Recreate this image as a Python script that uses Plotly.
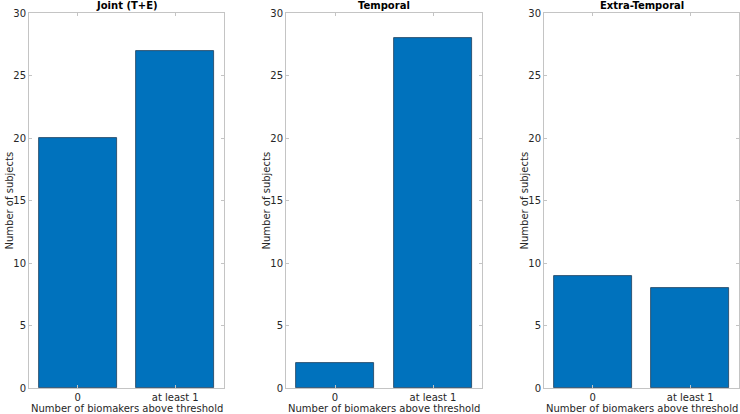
import plotly.graph_objects as go
from plotly.subplots import make_subplots

# data
categories = ["0", "at least 1"]
panel_titles = ["Joint (T+E)", "Temporal", "Extra-Temporal"]
joint_counts = [20, 27]
temporal_counts = [2, 28]
extra_counts = [9, 8]
y_ticks = [0, 5, 10, 15, 20, 25, 30]
x_title = "Number of biomakers above threshold"
y_title = "Number of subjects"

W, H = 740, 414
panels = [(29, 224), (286, 482), (544, 739)]
top_px, bot_px = 13, 388

fig = make_subplots(rows=1, cols=3)

bar_color = "#0072BD"
for i, counts in enumerate([joint_counts, temporal_counts, extra_counts]):
    fig.add_trace(
        go.Bar(
            x=[1, 2],
            y=counts,
            width=0.8,
            marker=dict(color=bar_color, line=dict(color="#1f3f5a", width=0.8)),
            showlegend=False,
        ),
        row=1, col=i + 1,
    )

axis_line = "#c4c4c4"
font_col = "#262626"
for i, (l, r) in enumerate(panels):
    n = "" if i == 0 else str(i + 1)
    fig.layout["xaxis" + n].update(
        domain=[l / W, r / W],
        range=[0.5, 2.5],
        tickvals=[1, 2],
        ticktext=categories,
        ticks="inside",
        ticklen=3,
        tickcolor=axis_line,
        showline=True,
        linecolor=axis_line,
        linewidth=1,
        mirror="ticks",
        showgrid=False,
        zeroline=False,
        automargin=False,
        tickfont=dict(size=10, color=font_col),
    )
    fig.layout["yaxis" + n].update(
        domain=[1 - bot_px / H, 1 - top_px / H],
        range=[0, 30],
        tickvals=y_ticks,
        ticks="inside",
        ticklen=3,
        tickcolor=axis_line,
        showline=True,
        linecolor=axis_line,
        linewidth=1,
        mirror="ticks",
        showgrid=False,
        zeroline=False,
        automargin=False,
        tickfont=dict(size=10, color=font_col),
    )
    # panel title
    fig.add_annotation(
        text="<b>" + panel_titles[i] + "</b>",
        x=(l + r) / 2 / W, y=1 - 6 / H,
        xref="paper", yref="paper",
        xanchor="center", yanchor="middle",
        showarrow=False,
        font=dict(size=10, color="#000000"),
    )
    # x axis title
    fig.add_annotation(
        text=x_title,
        x=(l + r) / 2 / W, y=1 - 408 / H,
        xref="paper", yref="paper",
        xanchor="center", yanchor="middle",
        showarrow=False,
        font=dict(size=10, color=font_col),
    )
    # y axis title
    fig.add_annotation(
        text=y_title,
        x=(l - 20) / W, y=1 - (top_px + bot_px) / 2 / H,
        xref="paper", yref="paper",
        xanchor="center", yanchor="middle",
        textangle=-90,
        showarrow=False,
        font=dict(size=10, color=font_col),
    )

fig.update_layout(
    width=W, height=H,
    margin=dict(l=0, r=0, t=0, b=0),
    plot_bgcolor="white",
    paper_bgcolor="white",
    font=dict(family="DejaVu Sans", size=10, color=font_col),
    bargap=0,
)

fig.write_html("out.html", config={"displayModeBar": False},
               post_script="document.body.style.margin='0px';")
